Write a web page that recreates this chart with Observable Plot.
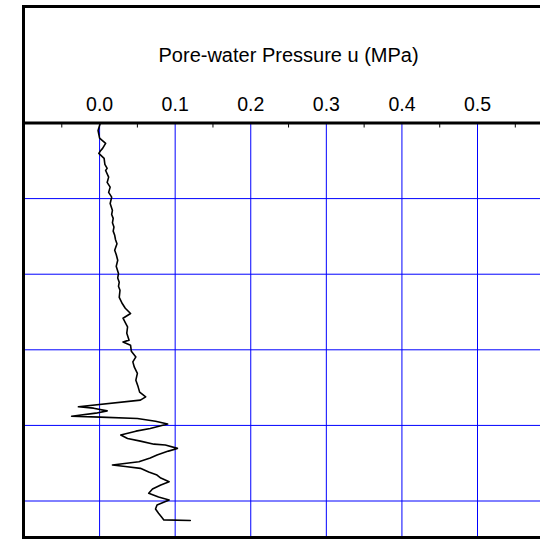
<!DOCTYPE html>
<html><head><meta charset="utf-8">
<script src="https://cdn.jsdelivr.net/npm/d3@7"></script>
<script src="https://cdn.jsdelivr.net/npm/@observablehq/plot@0.6"></script>
<style>
html,body{margin:0;padding:0;overflow:hidden;background:#fff;}
#wrap{position:relative;width:540px;height:539px;overflow:hidden;}
#chart{position:absolute;left:0;top:0;width:540px;height:539px;}
#chart svg{max-width:none !important;}
#box{position:absolute;left:22px;top:5px;width:515px;height:528px;border:3px solid #000;border-right:none;pointer-events:none;}
</style></head><body>
<div id="wrap"><div id="chart"></div><div id="box"></div></div>
<script>
const title = "Pore-water Pressure u (MPa)";
const xDomain = [-0.1, 0.6];
const xTicks = [0, 0.1, 0.2, 0.3, 0.4, 0.5];
const xTickLabels = ["0.0", "0.1", "0.2", "0.3", "0.4", "0.5"];
const xMinorTicks = [-0.05, 0.05, 0.15, 0.25, 0.35, 0.45, 0.55];
const depthGrid = [5, 10, 15, 20, 25];
const depth = [0.0, 0.5, 1.0, 1.35, 1.68, 1.85, 2.01, 2.34, 2.74, 3.0, 3.14, 3.58, 3.93, 4.24, 4.59, 4.90, 5.32, 5.78, 6.05, 6.31, 6.6, 6.88, 7.15, 7.43, 7.7, 7.98, 8.42, 8.7, 9.08, 9.48, 9.96, 10.25, 10.53, 10.8, 11.06, 11.53, 11.94, 12.25, 12.60, 12.91, 13.2, 13.49, 13.90, 14.36, 14.48, 14.70, 15.09, 15.47, 15.80, 16.15, 16.56, 17.01, 17.45, 17.80, 18.11, 18.33, 18.77, 18.86, 19.04, 19.19, 19.39, 19.45, 19.54, 19.72, 19.91, 20.20, 20.38, 20.64, 20.86, 21.04, 21.24, 21.30, 21.52, 21.70, 21.96, 22.16, 22.40, 22.62, 22.72, 22.84, 23.08, 23.28, 23.48, 23.72, 23.94, 24.21, 24.49, 24.74, 24.93, 25.26, 25.53, 25.81, 26.06, 26.25, 26.29];
const pressure = [0.001, -0.002, 0.000, 0.008, 0.004, 0.001, -0.001, 0.006, 0.007, 0.010, 0.008, 0.012, 0.010, 0.014, 0.012, 0.016, 0.014, 0.017, 0.016, 0.018, 0.017, 0.019, 0.018, 0.020, 0.021, 0.023, 0.020, 0.022, 0.024, 0.022, 0.025, 0.024, 0.026, 0.025, 0.027, 0.026, 0.030, 0.034, 0.041, 0.031, 0.034, 0.037, 0.036, 0.039, 0.031, 0.041, 0.042, 0.048, 0.044, 0.046, 0.050, 0.048, 0.051, 0.053, 0.061, 0.054, -0.028, -0.008, 0.010, -0.005, -0.037, 0.001, 0.050, 0.074, 0.090, 0.067, 0.048, 0.028, 0.037, 0.054, 0.072, 0.087, 0.103, 0.091, 0.076, 0.067, 0.052, 0.017, 0.034, 0.054, 0.065, 0.076, 0.081, 0.092, 0.081, 0.070, 0.065, 0.078, 0.092, 0.076, 0.074, 0.078, 0.082, 0.085, 0.120];
const data = depth.map((d, i) => ({depth: d, u: pressure[i]}));

const plot = Plot.plot({
  width: 540,
  height: 539,
  marginLeft: 23.5,
  marginRight: 0,
  marginTop: 122.5,
  marginBottom: 2.2,
  style: {fontFamily: "'Liberation Sans', Arial, sans-serif", fontSize: "19.5px", background: "transparent", color: "#000", maxWidth: "none"},
  x: {domain: xDomain, range: [23.5, 552.6]},
  y: {domain: [0, 27.4], reverse: true, axis: null},
  marks: [
    Plot.gridX(xTicks, {stroke: "#0000ff", strokeOpacity: 1, strokeWidth: 1}),
    Plot.gridY(depthGrid, {stroke: "#0000ff", strokeOpacity: 1, strokeWidth: 1}),
    Plot.ruleY([0], {stroke: "#000", strokeWidth: 3}),
    Plot.axisX(xMinorTicks, {anchor: "top", tickSize: 4, dy: 4, tickFormat: () => "", label: null, stroke: "#000"}),
    Plot.axisX(xTicks, {anchor: "top", tickSize: 0, tickPadding: 12, tickFormat: d => xTickLabels[xTicks.indexOf(d)], fontSize: 19.5, label: null, fill: "#000"}),
    Plot.text([title], {x: [(xDomain[0] + xDomain[1]) / 2], frameAnchor: "top", lineAnchor: "bottom", dy: -61.2, fontSize: 20, fill: "#000"}),
    Plot.line(data, {x: "u", y: "depth", stroke: "#000", strokeWidth: 1.6})
  ]
});
document.getElementById("chart").appendChild(plot);
</script>
</body></html>
